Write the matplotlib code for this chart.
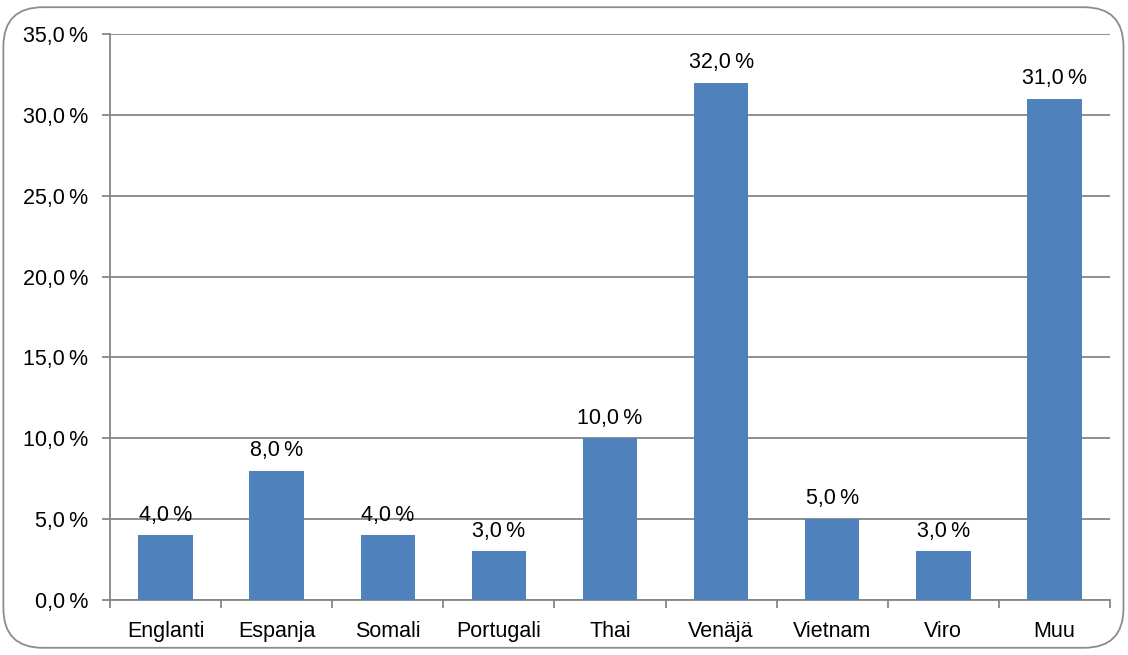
import matplotlib.pyplot as plt
from matplotlib.patches import FancyBboxPatch
from matplotlib.ticker import FuncFormatter, MultipleLocator
import numpy as np

# Data
languages = ['Englanti', 'Espanja', 'Somali', 'Portugali', 'Thai',
             'Venäjä', 'Vietnam', 'Viro', 'Muu']
shares = [4.0, 8.0, 4.0, 3.0, 10.0, 32.0, 5.0, 3.0, 31.0]

bar_color = '#4F81BD'
grid_color = '#868686'
text_color = '#000000'
fsize = 15.5

plt.rcParams['font.family'] = ['Liberation Sans', 'DejaVu Sans']


def pct(v, pos=None):
    return f'{v:.1f}'.replace('.', ',') + '\u2009%'


fig = plt.figure(figsize=(11.28, 6.55), dpi=100)
ax = fig.add_axes([0.0975, 0.084, 0.8865, 0.864])

x = np.arange(len(languages))
bars = ax.bar(x, shares, width=0.49, color=bar_color, zorder=3)

for b, v in zip(bars, shares):
    ax.annotate(pct(v), (b.get_x() + b.get_width() / 2, v),
                xytext=(0, 7), textcoords='offset points',
                ha='center', va='bottom', fontsize=fsize, color=text_color)

ax.set_xlim(-0.5, len(languages) - 0.5)
ax.set_ylim(0, 35)
ax.yaxis.set_major_locator(MultipleLocator(5))
ax.yaxis.set_major_formatter(FuncFormatter(pct))
ax.grid(axis='y', color=grid_color, linewidth=1.3, zorder=0)

ax.set_xticks(x)
ax.set_xticklabels(languages)
ax.set_xticks(np.arange(-0.5, len(languages)), minor=True)
ax.tick_params(axis='x', which='major', length=0, pad=15, labelsize=fsize)
ax.tick_params(axis='x', which='minor', length=6, width=1.3, color=grid_color)
ax.tick_params(axis='y', length=6, width=1.3, color=grid_color, pad=9.5,
               labelsize=fsize)

for side in ['top', 'right']:
    ax.spines[side].set_visible(False)
for side in ['left', 'bottom']:
    ax.spines[side].set_color(grid_color)
    ax.spines[side].set_linewidth(1.3)

# Rounded outer frame
frame = FancyBboxPatch((0.003, 0.011), 0.993, 0.978,
                       boxstyle='round,pad=0,rounding_size=0.035',
                       transform=fig.transFigure, fill=False,
                       edgecolor='#8c8c8c', linewidth=1.3,
                       mutation_aspect=1128 / 655)
fig.patches.append(frame)

fig.savefig('out.png', dpi=100)
